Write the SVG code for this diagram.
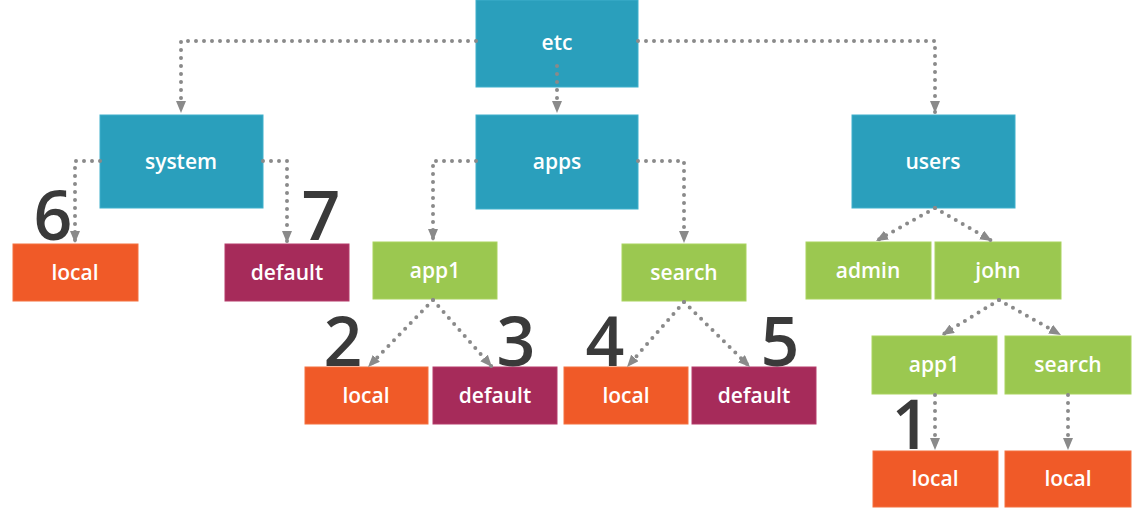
<svg xmlns="http://www.w3.org/2000/svg" width="1134" height="509" viewBox="0 0 1134 509">
<style>
.blue{fill:#2a9fbc;stroke:#3fb0cc;stroke-width:1}
.green{fill:#9bc850;stroke:#a9d35f;stroke-width:1}
.orange{fill:#f05a28;stroke:#f4713f;stroke-width:1}
.mag{fill:#a62b5a;stroke:#b53d6a;stroke-width:1}
.lbl{font-family:"Open Sans","Liberation Sans",sans-serif;font-weight:600;font-size:21px;fill:#fff;text-anchor:middle;dominant-baseline:central}
.num{font-family:"Open Sans","Liberation Sans",sans-serif;font-weight:600;font-size:68px;fill:#3a3a3a;text-anchor:middle}
.c{fill:none;stroke:#8a8a8a;stroke-width:4;stroke-linecap:round;stroke-dasharray:0 8;marker-end:url(#ah)}
</style>
<defs>
<marker id="ah" viewBox="0 0 12 10" refX="12" refY="5" markerWidth="12" markerHeight="10" markerUnits="userSpaceOnUse" orient="auto">
<path d="M0,0 L12,5 L0,10 Z" fill="#8a8a8a"/>
</marker>
</defs>
<rect width="1134" height="509" fill="#fff"/>
<g id="n-etc"><rect class="blue" x="476" y="0" width="162" height="87"/><text class="lbl" x="557" y="42">etc</text></g>
<g id="n-system"><rect class="blue" x="100" y="115" width="163" height="93"/><text class="lbl" x="181" y="161">system</text></g>
<g id="n-apps"><rect class="blue" x="476" y="115" width="162" height="94"/><text class="lbl" x="557" y="161">apps</text></g>
<g id="n-users"><rect class="blue" x="852" y="115" width="163" height="93"/><text class="lbl" x="933" y="161">users</text></g>
<g id="n-sys-local"><rect class="orange" x="13" y="244" width="125" height="57"/><text class="lbl" x="75" y="272">local</text></g>
<g id="n-sys-default"><rect class="mag" x="225" y="244" width="124" height="57"/><text class="lbl" x="287" y="272">default</text></g>
<g id="n-app1"><rect class="green" x="373" y="242" width="124" height="57"/><text class="lbl" x="435" y="270">app1</text></g>
<g id="n-search"><rect class="green" x="622" y="244" width="124" height="57"/><text class="lbl" x="684" y="272">search</text></g>
<g id="n-app1-local"><rect class="orange" x="305" y="367" width="123" height="57"/><text class="lbl" x="366" y="395">local</text></g>
<g id="n-app1-default"><rect class="mag" x="433" y="367" width="124" height="57"/><text class="lbl" x="495" y="395">default</text></g>
<g id="n-search-local"><rect class="orange" x="564" y="367" width="124" height="57"/><text class="lbl" x="626" y="395">local</text></g>
<g id="n-search-default"><rect class="mag" x="692" y="367" width="124" height="57"/><text class="lbl" x="754" y="395">default</text></g>
<g id="n-admin"><rect class="green" x="806" y="242" width="125" height="57"/><text class="lbl" x="868" y="270">admin</text></g>
<g id="n-john"><rect class="green" x="935" y="242" width="126" height="57"/><text class="lbl" x="998" y="270">john</text></g>
<g id="n-john-app1"><rect class="green" x="872" y="336" width="125" height="58"/><text class="lbl" x="934" y="364">app1</text></g>
<g id="n-john-search"><rect class="green" x="1005" y="336" width="126" height="58"/><text class="lbl" x="1068" y="364">search</text></g>
<g id="n-john-app1-local"><rect class="orange" x="873" y="451" width="125" height="56"/><text class="lbl" x="935" y="478">local</text></g>
<g id="n-john-search-local"><rect class="orange" x="1005" y="451" width="126" height="56"/><text class="lbl" x="1068" y="478">local</text></g>
<g id="connectors">
<path class="c" d="M476,41 H181 V113"/>
<path class="c" d="M557,66 V113"/>
<path class="c" d="M638,41 H935 V113"/>
<path class="c" d="M100,161 H75 V243"/>
<path class="c" d="M263,161 H287 V243"/>
<path class="c" d="M476,161 H433 V241"/>
<path class="c" d="M638,161 H684 V243"/>
<path class="c" d="M433,300 L368,367"/>
<path class="c" d="M433,300 L492,367"/>
<path class="c" d="M684,302 L627,367"/>
<path class="c" d="M684,302 L750,367"/>
<path class="c" d="M935,208 L876,241"/>
<path class="c" d="M935,208 L992,241"/>
<path class="c" d="M999,300 L942,335"/>
<path class="c" d="M999,300 L1061,335"/>
<path class="c" d="M935,395 V450"/>
<path class="c" d="M1068,395 V450"/>
</g>
<g id="numbers">
<text class="num" x="53" y="240">6</text>
<text class="num" x="321" y="240">7</text>
<text class="num" x="343" y="366">2</text>
<text class="num" x="516" y="366">3</text>
<text class="num" x="605" y="366">4</text>
<text class="num" x="780" y="366">5</text>
<text class="num" x="911" y="449">1</text>
</g>
</svg>
